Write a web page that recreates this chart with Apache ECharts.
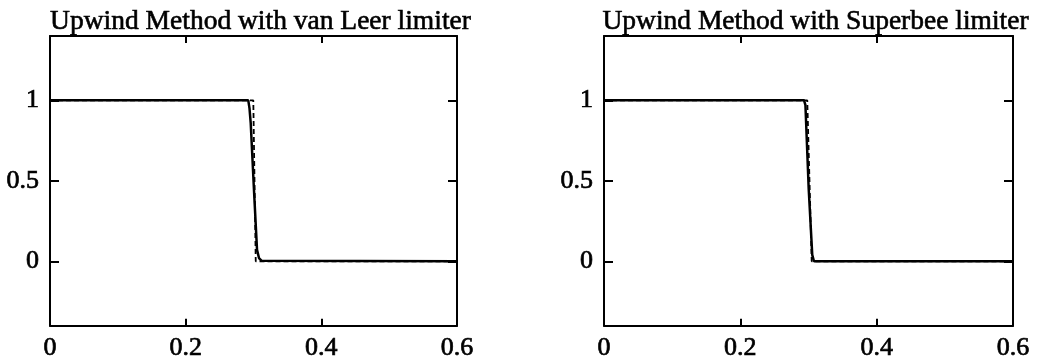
<!DOCTYPE html>
<html>
<head>
<meta charset="utf-8">
<script src="https://cdn.jsdelivr.net/npm/echarts@6/dist/echarts.min.js"></script>
<style>
html,body{margin:0;padding:0;background:#fff;}
#c{width:1037px;height:362px;}
</style>
</head>
<body>
<div id="c"></div>
<script>
// ---- data ----
const titles = ['Upwind Method with van Leer limiter', 'Upwind Method with Superbee limiter'];
const xTicks = [0, 0.2, 0.4, 0.6];
const yTicks = [0, 0.5, 1];

// van Leer: numerical (solid)
const vanLeerX = [0, 0.2923, 0.2941, 0.2959, 0.3007, 0.3052, 0.3081, 0.3121, 0.6];
const vanLeerY = [1, 1, 0.95, 0.858, 0.443, 0.071, 0.02, 0.003, 0];
// van Leer: exact (dashed)
const exactLX = [0, 0.2997, 0.3033, 0.6];
const exactLY = [1, 1, 0, 0];

// Superbee: numerical (solid)
const superbeeX = [0, 0.2935, 0.2955, 0.3003, 0.3055, 0.3080, 0.6];
const superbeeY = [1, 1, 0.97, 0.45, 0.04, 0, 0];
// Superbee: exact (dashed)
const exactRX = [0, 0.2982, 0.3047, 0.6];
const exactRY = [1, 1, 0, 0];

const zip = (xs, ys) => xs.map((x, i) => [x, ys[i]]);

const FONT = 'Liberation Serif';
const panels = [
  { left: 50, width: 407, solid: zip(vanLeerX, vanLeerY), dashed: zip(exactLX, exactLY) },
  { left: 604, width: 409, solid: zip(superbeeX, superbeeY), dashed: zip(exactRX, exactRY) }
];

const grid = [], xAxis = [], yAxis = [], series = [], title = [];
const lineCol = '#000';
const labelStyle = { fontFamily: FONT, fontSize: 26, color: '#000', textBorderColor: '#000', textBorderWidth: 0.7 };
panels.forEach((p, i) => {
  grid.push({ left: p.left, top: 36, width: p.width, height: 290, containLabel: false });
  title.push({
    text: titles[i], left: p.left + p.width / 2 + 2, top: 3, textAlign: 'center',
    textStyle: { fontFamily: FONT, fontSize: 27.5, fontWeight: 'normal', color: '#000',
      textBorderColor: '#000', textBorderWidth: 0.6 }
  });
  const common = { type: 'value', min: 0, max: 0.6, interval: 0.2, gridIndex: i,
    axisLine: { show: true, onZero: false, lineStyle: { color: lineCol, width: 2 } },
    axisTick: { show: true, inside: true, length: 7, lineStyle: { color: lineCol, width: 2 } },
    splitLine: { show: false } };
  xAxis.push(Object.assign({}, common, { position: 'bottom',
    axisLabel: Object.assign({ show: true, margin: 10,
      formatter: v => xTicks.includes(Math.round(v * 10) / 10) ? String(Math.round(v * 10) / 10) : '' }, labelStyle) }));
  xAxis.push(Object.assign({}, common, { position: 'top', axisLabel: { show: false } }));
  const ycommon = { type: 'value', min: -0.4, max: 1.4, gridIndex: i,
    axisLine: { show: true, onZero: false, lineStyle: { color: lineCol, width: 2 } },
    axisTick: { show: true, inside: true, length: 9, customValues: yTicks, lineStyle: { color: lineCol, width: 2 } },
    splitLine: { show: false } };
  yAxis.push(Object.assign({}, ycommon, { position: 'left',
    axisLabel: Object.assign({ show: true, margin: 11, customValues: yTicks }, labelStyle) }));
  yAxis.push(Object.assign({}, ycommon, { position: 'right', axisLabel: { show: false } }));
  series.push({ type: 'line', xAxisIndex: 2 * i, yAxisIndex: 2 * i, data: p.dashed, showSymbol: false,
    lineStyle: { color: '#000', width: 1.8, type: [5, 3] }, z: 2 });
  series.push({ type: 'line', xAxisIndex: 2 * i, yAxisIndex: 2 * i, data: p.solid, showSymbol: false,
    lineStyle: { color: '#000', width: 2.5 }, z: 3 });
});

const chart = echarts.init(document.getElementById('c'), null, { renderer: 'canvas' });
chart.setOption({ backgroundColor: '#fff', animation: false, title, grid, xAxis, yAxis, series });
</script>
</body>
</html>
